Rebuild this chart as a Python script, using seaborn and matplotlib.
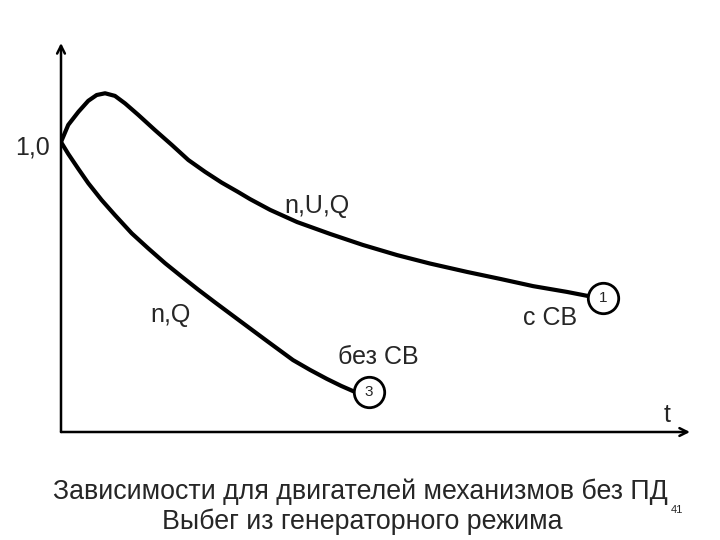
import numpy as np
import pandas as pd
import seaborn as sns
import matplotlib.pyplot as plt

# кривая 1: с СВ (n,U,Q)
t_sv = [0.0, 0.025, 0.060, 0.094, 0.123, 0.152, 0.186, 0.221, 0.267, 0.324, 0.382,
        0.439, 0.497, 0.554, 0.610, 0.652, 0.721, 0.814, 0.928, 1.041, 1.159,
        1.272, 1.40, 1.514, 1.628, 1.745, 1.817]
n_sv = [1.0, 1.059, 1.104, 1.142, 1.162, 1.168, 1.159, 1.133, 1.093, 1.041, 0.990,
        0.938, 0.897, 0.860, 0.828, 0.803, 0.766, 0.724, 0.683, 0.645, 0.610,
        0.581, 0.552, 0.528, 0.503, 0.483, 0.469]

# кривая 3: без СВ (n,Q)
t_bez = [0.0, 0.025, 0.060, 0.094, 0.140, 0.186, 0.244, 0.301, 0.359, 0.416, 0.473,
         0.531, 0.617, 0.710, 0.8, 0.859, 0.917, 0.966, 1.014]
n_bez = [1.0, 0.959, 0.907, 0.858, 0.800, 0.748, 0.685, 0.633, 0.582, 0.536, 0.491,
         0.447, 0.383, 0.314, 0.248, 0.214, 0.183, 0.159, 0.138]

# номера кривых
circ_t = [1.869, 1.062]
circ_n = [0.462, 0.138]
circ_lbl = ['1', '3']

curve_lbls = ['n,U,Q', 'n,Q', 'с СВ', 'без СВ']
curve_lbl_t = [0.883, 0.379, 1.686, 1.093]
curve_lbl_n = [0.780, 0.403, 0.393, 0.259]

title1 = 'Зависимости для двигателей механизмов без ПД'
title2 = 'Выбег из генераторного режима'

sns.set_style("white")
plt.rcParams['font.family'] = ['Liberation Sans', 'DejaVu Sans']

df1 = pd.DataFrame({'t': t_sv, 'n': n_sv})
df3 = pd.DataFrame({'t': t_bez, 'n': n_bez})

fig = plt.figure(figsize=(7.2, 5.4), dpi=100)
ax = fig.add_axes([61 / 720, 108 / 540, 629 / 720, 389 / 540])
ax.set_xlim(0, 629 / 290)
ax.set_ylim(0, 389 / 290)

for d in (df1, df3):
    sns.lineplot(data=d, x='t', y='n', sort=False, estimator=None, color='black',
                 lw=3, ax=ax, solid_joinstyle='round', solid_capstyle='round')

ax.scatter(circ_t, circ_n, s=480, facecolor='white', edgecolor='black', linewidth=2, zorder=5)
for tt, nn, lb in zip(circ_t, circ_n, circ_lbl):
    ax.text(tt, nn, lb, ha='center', va='center', fontsize=11, zorder=6)

for lb, tt, nn in zip(curve_lbls, curve_lbl_t, curve_lbl_n):
    ax.text(tt, nn, lb, ha='center', va='center', fontsize=18)

# оси со стрелками
for s in ax.spines.values():
    s.set_visible(False)
ax.set_xticks([])
ax.set_yticks([])
ax.set_xlabel('')
ax.set_ylabel('')
arrow = dict(arrowstyle='->', lw=1.8, color='black', mutation_scale=14, shrinkA=0, shrinkB=0)
ax.annotate('', xy=(0, 1), xytext=(0, 0), xycoords='axes fraction', arrowprops=arrow)
ax.annotate('', xy=(1, 0), xytext=(0, 0), xycoords='axes fraction', arrowprops=arrow)

ax.text(-0.018, 0.98, '1,0', transform=ax.get_yaxis_transform(), ha='right', va='center', fontsize=18)
ax.text(2.09, 0.059, 't', ha='center', va='center', fontsize=18)

fig.text(360 / 720, 1 - 492 / 540, title1, ha='center', va='center', fontsize=19.3)
fig.text(362 / 720, 1 - 522 / 540, title2, ha='center', va='center', fontsize=19.3)
fig.text(671 / 720, 1 - 510 / 540, '41', ha='left', va='center', fontsize=8)

fig.savefig('out.png', dpi=100, facecolor='white')
